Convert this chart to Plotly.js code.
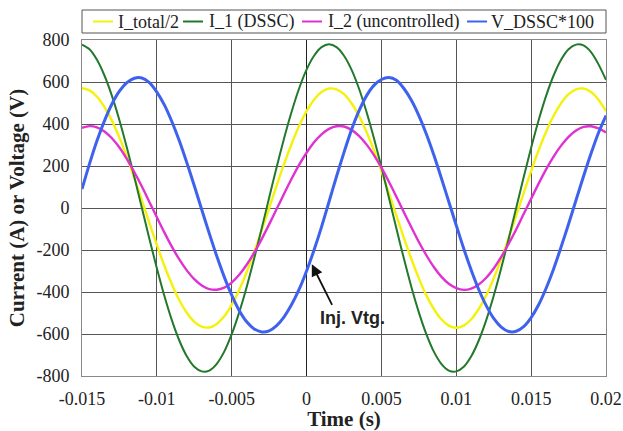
<!DOCTYPE html>
<html>
<head>
<meta charset="utf-8">
<script src="https://cdn.plot.ly/plotly-3.0.1.min.js"></script>
<style>
  html, body { margin: 0; padding: 0; background: #ffffff; }
  #chart { width: 623px; height: 431px; }
</style>
</head>
<body>
<div id="chart"></div>
<script>
// Time axis samples (s)
const time = [
  -0.015, -0.0145, -0.014, -0.0135, -0.013, -0.0125, -0.012, -0.0115, -0.011, -0.0105,
  -0.01, -0.0095, -0.009, -0.0085, -0.008, -0.0075, -0.007, -0.0065, -0.006, -0.0055,
  -0.005, -0.0045, -0.004, -0.0035, -0.003, -0.0025, -0.002, -0.0015, -0.001, -0.0005,
  0, 0.0005, 0.001, 0.0015, 0.002, 0.0025, 0.003, 0.0035, 0.004, 0.0045,
  0.005, 0.0055, 0.006, 0.0065, 0.007, 0.0075, 0.008, 0.0085, 0.009, 0.0095,
  0.01, 0.0105, 0.011, 0.0115, 0.012, 0.0125, 0.013, 0.0135, 0.014, 0.0145,
  0.015, 0.0155, 0.016, 0.0165, 0.017, 0.0175, 0.018, 0.0185, 0.019, 0.0195, 0.02
];

// Half of the total line current (A)
const iTotalHalf = [
  570, 560, 530, 481, 416, 335, 243, 142, 36, -71,
  -176, -275, -363, -439, -499, -542, -565, -569, -552, -516,
  -461, -390, -305, -210, -107, 0, 107, 210, 305, 390,
  461, 516, 552, 569, 565, 542, 499, 439, 363, 275,
  176, 71, -36, -142, -243, -335, -416, -481, -530, -560,
  -570, -560, -530, -481, -416, -335, -243, -142, -36, 71,
  176, 275, 363, 439, 499, 542, 565, 569, 552, 516, 461
];

// Current in the line with the DSSC (A)
const i1Dssc = [
  778, 756, 706, 631, 534, 418, 287, 146, 0, -146,
  -287, -418, -534, -631, -706, -756, -778, -774, -742, -684,
  -601, -497, -376, -241, -98, 49, 194, 332, 458, 569,
  659, 725, 766, 780, 766, 725, 659, 569, 458, 332,
  194, 49, -98, -241, -376, -497, -601, -684, -742, -774,
  -778, -756, -706, -631, -534, -418, -287, -146, 0, 146,
  287, 418, 534, 631, 706, 756, 778, 774, 742, 684, 610
];

// Current in the uncontrolled line (A)
const i2Uncontrolled = [
  382, 390, 384, 364, 332, 288, 233, 170, 102, 29,
  -44, -116, -184, -245, -297, -339, -369, -386, -389, -379,
  -355, -318, -270, -213, -148, -78, -5, 68, 139, 205,
  263, 313, 351, 377, 389, 388, 372, 344, 303, 252,
  192, 125, 54, -20, -92, -162, -225, -281, -327, -361,
  -382, -390, -384, -364, -332, -288, -233, -170, -102, -29,
  44, 116, 184, 245, 297, 339, 369, 386, 389, 379, 360
];

// Injected DSSC voltage, scaled by 100 (V)
const vDsscX100 = [
  90, 210, 320, 415, 495, 556, 597, 618, 619, 597,
  552, 491, 412, 320, 216, 106, -8, -121, -229, -328,
  -415, -488, -542, -576, -590, -585, -560, -518, -460, -388,
  -300, -200, -90, 30, 150, 265, 372, 462, 534, 584,
  612, 621, 608, 569, 513, 440, 352, 252, 143, 30,
  -83, -194, -296, -388, -465, -526, -567, -588, -587, -565,
  -522, -461, -382, -290, -186, -76, 38, 151, 259, 358, 440
];

const seriesNames = ['I_total/2', 'I_1 (DSSC)', 'I_2 (uncontrolled)', 'V_DSSC*100'];
const seriesValues = [iTotalHalf, i1Dssc, i2Uncontrolled, vDsscX100];

const xTickVals = [-0.015, -0.01, -0.005, 0, 0.005, 0.01, 0.015, 0.02];
const xTickText = ['-0.015', '-0.01', '-0.005', '0', '0.005', '0.01', '0.015', '0.02'];
const yTickVals = [-800, -600, -400, -200, 0, 200, 400, 600, 800];
const yTickText = ['-800', '-600', '-400', '-200', '0', '200', '400', '600', '800'];

// Styling
const colors = ['#f4f20c', '#23782c', '#e032d2', '#3f62ee'];
const widths = [2.4, 2.0, 2.4, 3.0];
const serif = 'Liberation Serif, Times New Roman, serif';

const W = 623, H = 431;
const M = { l: 82, r: 17, t: 40, b: 55 };
const plotW = W - M.l - M.r, plotH = H - M.t - M.b;
const px = x => (x - M.l) / plotW;     // page pixel -> paper x
const py = y => (H - M.b - y) / plotH; // page pixel -> paper y

const traces = seriesNames.map((name, i) => ({
  type: 'scatter',
  mode: 'lines',
  name: name,
  x: time,
  y: seriesValues[i],
  line: { color: colors[i], width: widths[i], shape: 'spline', smoothing: 0.8 },
  hoverinfo: 'skip'
}));

// Legend drawn as a boxed row above the plot
const legendY = py(21.5);
const legendLine = [[93, 113], [183, 203], [302, 322], [467, 487]];
const legendText = [116, 207, 326, 489];

const shapes = [{
  type: 'rect', xref: 'paper', yref: 'paper',
  x0: px(82), x1: px(606), y0: py(33), y1: py(10),
  line: { color: '#555555', width: 1 }, fillcolor: 'rgba(0,0,0,0)'
}];
const annotations = [];
seriesNames.forEach((name, i) => {
  shapes.push({
    type: 'line', xref: 'paper', yref: 'paper',
    x0: px(legendLine[i][0]), x1: px(legendLine[i][1]), y0: legendY, y1: legendY,
    line: { color: colors[i], width: 2 }
  });
  annotations.push({
    xref: 'paper', yref: 'paper', x: px(legendText[i]), y: legendY,
    xanchor: 'left', yanchor: 'middle', showarrow: false,
    text: name, font: { family: serif, size: 18, color: '#222222' }
  });
});

// Callout pointing at the injected voltage
annotations.push({
  xref: 'x', yref: 'y', x: 0.00035, y: -268,
  axref: 'pixel', ayref: 'pixel', ax: 21, ay: 42,
  text: '', showarrow: true, arrowhead: 2, arrowsize: 1.3, arrowwidth: 1.8,
  arrowcolor: '#111111'
});
annotations.push({
  xref: 'x', yref: 'y', x: 0.00309, y: -524,
  xanchor: 'center', yanchor: 'middle', showarrow: false,
  text: '<b>Inj. Vtg.</b>',
  font: { family: 'Liberation Sans, Arial, sans-serif', size: 18, color: '#222222' }
});

const layout = {
  width: W, height: H,
  margin: M,
  paper_bgcolor: '#ffffff', plot_bgcolor: '#ffffff',
  showlegend: false,
  xaxis: {
    range: [-0.015, 0.02],
    tickvals: xTickVals, ticktext: xTickText,
    ticks: '', ticklabelstandoff: 6,
    tickfont: { family: serif, size: 18, color: '#222222' },
    showgrid: true, gridcolor: '#555555', gridwidth: 1,
    zeroline: true, zerolinecolor: '#222222', zerolinewidth: 1.2,
    showline: true, mirror: true, linecolor: '#888888', linewidth: 1,
    title: { text: '<b>Time (s)</b>', font: { family: serif, size: 21, color: '#222222' }, standoff: 4 },
    automargin: false, fixedrange: true
  },
  yaxis: {
    range: [-800, 800],
    tickvals: yTickVals, ticktext: yTickText,
    ticks: '', ticklabelstandoff: 8,
    tickfont: { family: serif, size: 18, color: '#222222' },
    showgrid: true, gridcolor: '#555555', gridwidth: 1,
    zeroline: true, zerolinecolor: '#555555', zerolinewidth: 1,
    showline: true, mirror: true, linecolor: '#888888', linewidth: 1,
    title: { text: '<b>Current (A) or Voltage (V)</b>', font: { family: serif, size: 21, color: '#222222' }, standoff: 6 },
    automargin: false, fixedrange: true
  },
  shapes: shapes,
  annotations: annotations
};

Plotly.newPlot('chart', traces, layout, { displayModeBar: false, staticPlot: true });
</script>
</body>
</html>
